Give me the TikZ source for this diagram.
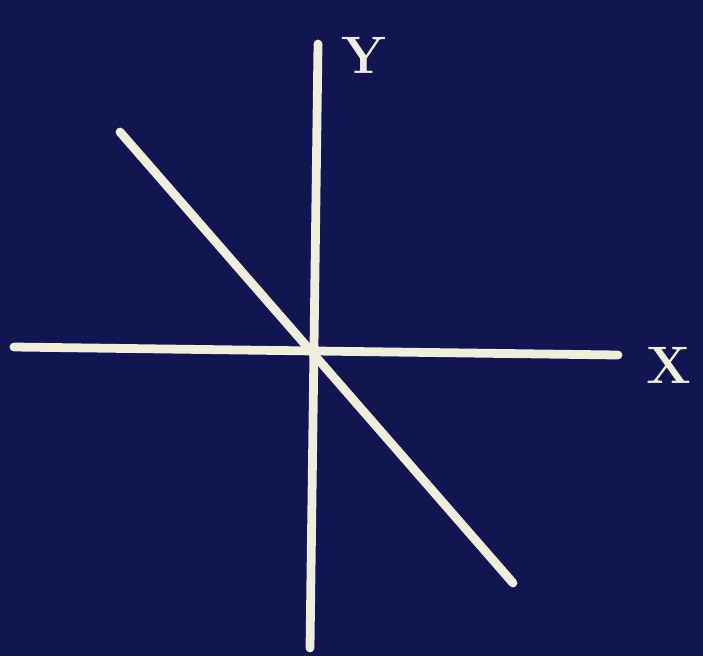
\documentclass[tikz,border=0pt]{standalone}
\usepackage{tikz}
\usetikzlibrary{positioning,calc}
\definecolor{boardnavy}{HTML}{111552}
\definecolor{chalk}{HTML}{EFEDDC}
\tikzset{
  % akser
  axis/.style={draw=chalk,line width=5pt,line cap=round},
  axlabel/.style={text=chalk,inner sep=0pt,font=\fontsize{30}{34}\selectfont},
}
\begin{document}
\begin{tikzpicture}[x=0.02cm,y=-0.02cm]
  \fill[boardnavy] (0,0) rectangle (703,656);
  \useasboundingbox (0,0) rectangle (703,656);
  \coordinate (xl) at (14,347);
  \coordinate (xr) at (618,355);
  \coordinate (yt) at (318,44);
  \coordinate (yb) at (310,648);
  \coordinate (dt) at (120,132);
  \coordinate (db) at (513,583);
  \draw[axis] (xl) -- (xr);
  \draw[axis] (yt) -- (yb);
  \draw[axis] (dt) -- (db);
  \node[axlabel] (ylab) at (364,55) {\textbf{Y}};
  \node[axlabel] (xlab) at (669,365) {\textbf{X}};
\end{tikzpicture}
\end{document}
